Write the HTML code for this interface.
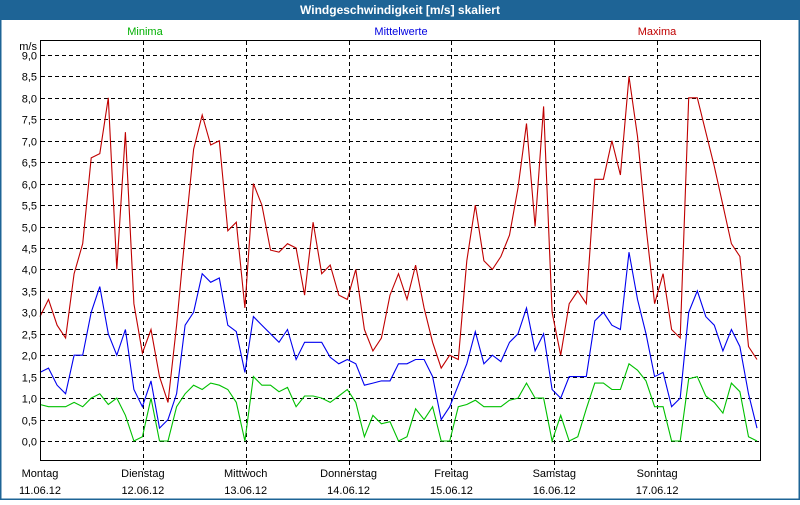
<!DOCTYPE html>
<html><head><meta charset="utf-8"><style>
body{margin:0;width:800px;height:500px;overflow:hidden;background:#fff;font-family:"Liberation Sans",sans-serif}
svg text{font-family:"Liberation Sans",sans-serif;font-size:11px}
</style></head><body>
<svg id="chart" width="800" height="500" xmlns="http://www.w3.org/2000/svg">
<rect x="0.5" y="0.5" width="799" height="499" fill="#fff" stroke="#1e6496" stroke-width="2"/>
<rect x="0" y="0" width="800" height="20" fill="#1e6496"/>
<text x="400" y="14" text-anchor="middle" fill="#fff" font-weight="bold" style="font-size:12px">Windgeschwindigkeit [m/s] skaliert</text>
<text x="145" y="35" text-anchor="middle" fill="#00b000">Minima</text>
<text x="401" y="35" text-anchor="middle" fill="#0000e0">Mittelwerte</text>
<text x="657" y="35" text-anchor="middle" fill="#c00000">Maxima</text>
<text x="37" y="50" text-anchor="end" fill="#000">m/s</text>
<g id="grid"></g>
<g id="series"></g>
<rect x="40.5" y="40.5" width="720" height="420" fill="none" stroke="#000"/>
<g id="labels"></g>
</svg>
<script>
const yTicks=[0,0.5,1,1.5,2,2.5,3,3.5,4,4.5,5,5.5,6,6.5,7,7.5,8,8.5,9];
const dayNames=["Montag","Dienstag","Mittwoch","Donnerstag","Freitag","Samstag","Sonntag"];
const dayDates=["11.06.12","12.06.12","13.06.12","14.06.12","15.06.12","16.06.12","17.06.12"];
const maxima=[2.9,3.3,2.7,2.4,3.9,4.6,6.6,6.7,8.0,4.0,7.2,3.2,2.05,2.6,1.5,0.9,2.7,4.8,6.8,7.6,6.9,7.0,4.9,5.1,3.1,6.0,5.5,4.45,4.4,4.6,4.5,3.4,5.1,3.9,4.1,3.4,3.3,4.0,2.6,2.1,2.4,3.4,3.9,3.3,4.1,3.1,2.3,1.7,2.0,1.9,4.2,5.5,4.2,4.0,4.3,4.8,5.9,7.4,5.0,7.8,3.0,2.0,3.2,3.5,3.2,6.1,6.1,7.0,6.2,8.5,7.1,5.0,3.2,3.9,2.6,2.4,8.0,8.0,7.2,6.4,5.5,4.6,4.3,2.2,1.9];
const mittel=[1.6,1.7,1.3,1.1,2.0,2.0,3.0,3.6,2.5,2.0,2.6,1.2,0.8,1.4,0.3,0.5,1.1,2.7,3.0,3.9,3.7,3.8,2.7,2.55,1.6,2.9,2.7,2.5,2.3,2.6,1.9,2.3,2.3,2.3,1.95,1.8,1.9,1.8,1.3,1.35,1.4,1.4,1.8,1.8,1.9,1.9,1.5,0.5,0.8,1.3,1.8,2.55,1.8,2.0,1.85,2.3,2.5,3.1,2.1,2.5,1.2,1.0,1.5,1.5,1.5,2.8,3.0,2.7,2.6,4.4,3.3,2.5,1.5,1.6,0.8,1.0,3.0,3.5,2.9,2.7,2.1,2.6,2.2,1.1,0.3];
const minima=[0.85,0.8,0.8,0.8,0.9,0.8,1.0,1.1,0.85,1.0,0.6,0.0,0.1,1.0,0.0,0.0,0.8,1.1,1.3,1.2,1.35,1.3,1.2,0.9,0.0,1.5,1.3,1.3,1.15,1.25,0.8,1.05,1.05,1.0,0.9,1.05,1.2,0.9,0.1,0.6,0.4,0.45,0.0,0.1,0.75,0.5,0.8,0.0,0.0,0.8,0.85,0.95,0.8,0.8,0.8,0.95,1.0,1.35,1.0,1.0,0.0,0.6,0.0,0.1,0.75,1.35,1.35,1.2,1.2,1.8,1.65,1.4,0.8,0.8,0.0,0.0,1.45,1.5,1.05,0.9,0.65,1.35,1.15,0.1,0.0];

const NS="http://www.w3.org/2000/svg";
const yScale=v=>441-v*42.9;
const xIdx=i=>40+i*(717/84);
const xDay=d=>40+d*(720/7);
const grid=document.getElementById('grid'),labels=document.getElementById('labels'),series=document.getElementById('series');
function mk(tag,attrs,parent){const e=document.createElementNS(NS,tag);for(const k in attrs)e.setAttribute(k,attrs[k]);parent.appendChild(e);return e;}
yTicks.forEach(v=>{
  const y=Math.round(yScale(v))+0.5;
  const l=mk('line',{x1:41,x2:760,y1:y,y2:y,stroke:'#000','stroke-dasharray':'4,3'},grid);
  
  
  const t=mk('text',{x:37,y:y+4,'text-anchor':'end',fill:'#000'},labels);
  t.textContent=v.toFixed(1).replace('.',',');
  
  
});
dayNames.forEach((n,d)=>{
  const x=Math.round(xDay(d))+0.5;
  if(d>0){
    const l=mk('line',{x1:x,x2:x,y1:41,y2:470,stroke:'#000','stroke-dasharray':'4,3'},grid);
    
    
  }
  const t=mk('text',{x:xDay(d),y:477,'text-anchor':'middle',fill:'#000'},labels);
  t.textContent=n;
  
  
  const t2=mk('text',{x:xDay(d),y:494,'text-anchor':'middle',fill:'#000'},labels);
  t2.textContent=dayDates[d];
  
  
});
function line(arr,color,name){
  const p=mk('polyline',{points:arr.map((v,i)=>xIdx(i).toFixed(1)+','+yScale(v).toFixed(1)).join(' '),fill:'none',stroke:color,'stroke-width':1.1},series);
  
  
}
line(minima,'#00c000','minima-line');
line(mittel,'#0000f0','mittelwerte-line');
line(maxima,'#c00000','maxima-line');
</script>
</body></html>
